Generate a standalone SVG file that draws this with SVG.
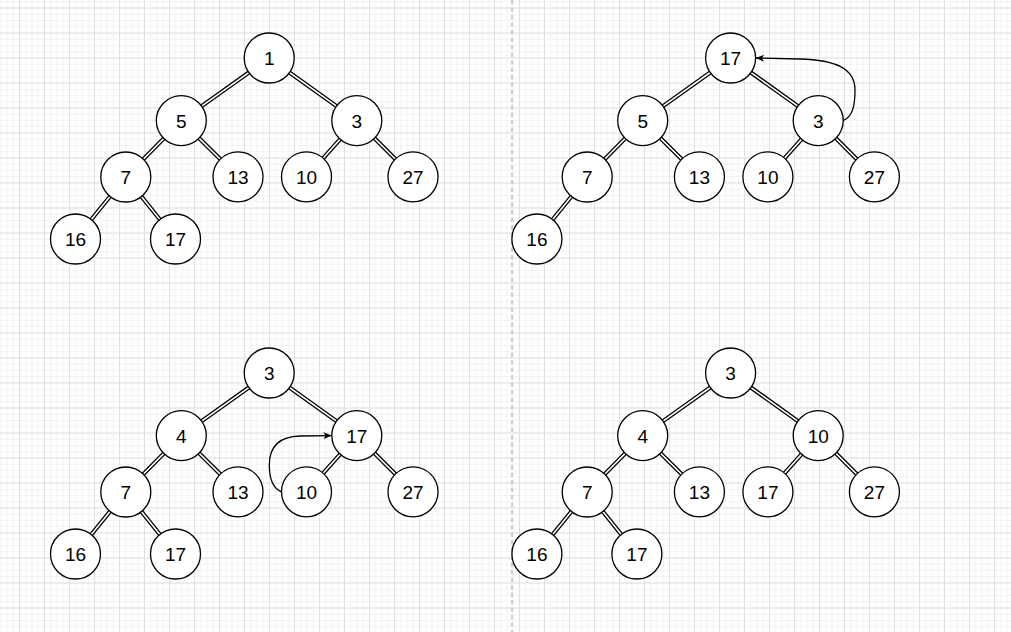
<svg xmlns="http://www.w3.org/2000/svg" width="1011" height="632" viewBox="0 0 1011 632">
<style>
.n circle{fill:#fff;stroke:#000;stroke-width:1.3}
.n text{font-family:"Liberation Sans",Arial,sans-serif;font-size:19px;fill:#000;text-anchor:middle}
.eo{stroke:#000;stroke-width:4.2;fill:none;stroke-linecap:butt}
.ei{stroke:#fff;stroke-width:1.6;fill:none;stroke-linecap:butt}
.arr{stroke:#000;stroke-width:1.3;fill:none;marker-end:url(#ah)}
</style>
<defs>
<pattern id="minor" patternUnits="userSpaceOnUse" x="19" y="7.5" width="6.25" height="6.25">
<rect x="0" y="0" width="6.25" height="1" fill="#f2f2f2"/>
<rect x="0" y="0" width="1" height="6.25" fill="#f2f2f2"/>
</pattern>
<pattern id="major" patternUnits="userSpaceOnUse" x="19" y="7.5" width="25" height="25">
<rect x="0" y="0" width="25" height="1" fill="#e0e0e0"/>
<rect x="0" y="0" width="1" height="25" fill="#e0e0e0"/>
</pattern>
<marker id="ah" markerUnits="userSpaceOnUse" markerWidth="10" markerHeight="8" refX="8" refY="3.5" orient="auto">
<path d="M0,0 L8,3.5 L0,7 L2,3.5 z" fill="#000"/>
</marker>
</defs>
<rect width="1011" height="632" fill="#fff"/>
<rect width="1011" height="632" fill="url(#minor)"/>
<rect width="1011" height="632" fill="url(#major)"/>
<line x1="512" y1="0" x2="512" y2="632" stroke="#bdbdbd" stroke-width="1.5" stroke-dasharray="4.5 3"/>

<g id="connectors">
<!-- top-left -->
<path class="eo" d="M269.2,58 L181.3,120.6 M269.2,58 L356.8,120.6 M181.3,120.6 L125.8,177 M181.3,120.6 L238,176.8 M356.8,120.6 L306.5,176.8 M356.8,120.6 L413,176.8 M125.8,177 L75.5,239 M125.8,177 L175.5,239"/>
<path class="ei" d="M269.2,58 L181.3,120.6 M269.2,58 L356.8,120.6 M181.3,120.6 L125.8,177 M181.3,120.6 L238,176.8 M356.8,120.6 L306.5,176.8 M356.8,120.6 L413,176.8 M125.8,177 L75.5,239 M125.8,177 L175.5,239"/>
<!-- top-right -->
<path class="eo" d="M730.6,58 L642.7,120.6 M730.6,58 L818.2,120.6 M642.7,120.6 L587.2,177 M642.7,120.6 L699.4,176.8 M818.2,120.6 L767.9,176.8 M818.2,120.6 L874.4,176.8 M587.2,177 L536.9,239"/>
<path class="ei" d="M730.6,58 L642.7,120.6 M730.6,58 L818.2,120.6 M642.7,120.6 L587.2,177 M642.7,120.6 L699.4,176.8 M818.2,120.6 L767.9,176.8 M818.2,120.6 L874.4,176.8 M587.2,177 L536.9,239"/>
<!-- bottom-left -->
<path class="eo" d="M269.2,373 L181.3,435.6 M269.2,373 L356.8,435.6 M181.3,435.6 L125.8,492 M181.3,435.6 L238,491.8 M356.8,435.6 L306.5,491.8 M356.8,435.6 L413,491.8 M125.8,492 L75.5,554 M125.8,492 L175.5,554"/>
<path class="ei" d="M269.2,373 L181.3,435.6 M269.2,373 L356.8,435.6 M181.3,435.6 L125.8,492 M181.3,435.6 L238,491.8 M356.8,435.6 L306.5,491.8 M356.8,435.6 L413,491.8 M125.8,492 L75.5,554 M125.8,492 L175.5,554"/>
<!-- bottom-right -->
<path class="eo" d="M730.6,373 L642.7,435.6 M730.6,373 L818.2,435.6 M642.7,435.6 L587.2,492 M642.7,435.6 L699.4,491.8 M818.2,435.6 L767.9,491.8 M818.2,435.6 L874.4,491.8 M587.2,492 L536.9,554 M587.2,492 L636.9,554"/>
<path class="ei" d="M730.6,373 L642.7,435.6 M730.6,373 L818.2,435.6 M642.7,435.6 L587.2,492 M642.7,435.6 L699.4,491.8 M818.2,435.6 L767.9,491.8 M818.2,435.6 L874.4,491.8 M587.2,492 L536.9,554 M587.2,492 L636.9,554"/>
</g>

<g id="tl">
<g id="tl-1" class="n"><circle cx="269.2" cy="58" r="25"/><text x="269.2" y="65">1</text></g>
<g id="tl-5" class="n"><circle cx="181.3" cy="120.6" r="25"/><text x="181.3" y="127.6">5</text></g>
<g id="tl-3" class="n"><circle cx="356.8" cy="120.6" r="25"/><text x="356.8" y="127.6">3</text></g>
<g id="tl-7" class="n"><circle cx="125.8" cy="177" r="25"/><text x="125.8" y="184">7</text></g>
<g id="tl-13" class="n"><circle cx="238" cy="176.8" r="25"/><text x="238" y="183.8">13</text></g>
<g id="tl-10" class="n"><circle cx="306.5" cy="176.8" r="25"/><text x="306.5" y="183.8">10</text></g>
<g id="tl-27" class="n"><circle cx="413" cy="176.8" r="25"/><text x="413" y="183.8">27</text></g>
<g id="tl-16" class="n"><circle cx="75.5" cy="239" r="25"/><text x="75.5" y="246">16</text></g>
<g id="tl-17" class="n"><circle cx="175.5" cy="239" r="25"/><text x="175.5" y="246">17</text></g>
</g>

<g id="tr">
<g id="tr-17" class="n"><circle cx="730.6" cy="58" r="25"/><text x="730.6" y="65">17</text></g>
<g id="tr-5" class="n"><circle cx="642.7" cy="120.6" r="25"/><text x="642.7" y="127.6">5</text></g>
<g id="tr-3" class="n"><circle cx="818.2" cy="120.6" r="25"/><text x="818.2" y="127.6">3</text></g>
<g id="tr-7" class="n"><circle cx="587.2" cy="177" r="25"/><text x="587.2" y="184">7</text></g>
<g id="tr-13" class="n"><circle cx="699.4" cy="176.8" r="25"/><text x="699.4" y="183.8">13</text></g>
<g id="tr-10" class="n"><circle cx="767.9" cy="176.8" r="25"/><text x="767.9" y="183.8">10</text></g>
<g id="tr-27" class="n"><circle cx="874.4" cy="176.8" r="25"/><text x="874.4" y="183.8">27</text></g>
<g id="tr-16" class="n"><circle cx="536.9" cy="239" r="25"/><text x="536.9" y="246">16</text></g>
</g>

<g id="bl">
<g id="bl-3" class="n"><circle cx="269.2" cy="373" r="25"/><text x="269.2" y="380">3</text></g>
<g id="bl-4" class="n"><circle cx="181.3" cy="435.6" r="25"/><text x="181.3" y="442.6">4</text></g>
<g id="bl-17a" class="n"><circle cx="356.8" cy="435.6" r="25"/><text x="356.8" y="442.6">17</text></g>
<g id="bl-7" class="n"><circle cx="125.8" cy="492" r="25"/><text x="125.8" y="499">7</text></g>
<g id="bl-13" class="n"><circle cx="238" cy="491.8" r="25"/><text x="238" y="498.8">13</text></g>
<g id="bl-10" class="n"><circle cx="306.5" cy="491.8" r="25"/><text x="306.5" y="498.8">10</text></g>
<g id="bl-27" class="n"><circle cx="413" cy="491.8" r="25"/><text x="413" y="498.8">27</text></g>
<g id="bl-16" class="n"><circle cx="75.5" cy="554" r="25"/><text x="75.5" y="561">16</text></g>
<g id="bl-17b" class="n"><circle cx="175.5" cy="554" r="25"/><text x="175.5" y="561">17</text></g>
</g>

<g id="br">
<g id="br-3" class="n"><circle cx="730.6" cy="373" r="25"/><text x="730.6" y="380">3</text></g>
<g id="br-4" class="n"><circle cx="642.7" cy="435.6" r="25"/><text x="642.7" y="442.6">4</text></g>
<g id="br-10" class="n"><circle cx="818.2" cy="435.6" r="25"/><text x="818.2" y="442.6">10</text></g>
<g id="br-7" class="n"><circle cx="587.2" cy="492" r="25"/><text x="587.2" y="499">7</text></g>
<g id="br-13" class="n"><circle cx="699.4" cy="491.8" r="25"/><text x="699.4" y="498.8">13</text></g>
<g id="br-17a" class="n"><circle cx="767.9" cy="491.8" r="25"/><text x="767.9" y="498.8">17</text></g>
<g id="br-27" class="n"><circle cx="874.4" cy="491.8" r="25"/><text x="874.4" y="498.8">27</text></g>
<g id="br-16" class="n"><circle cx="536.9" cy="554" r="25"/><text x="536.9" y="561">16</text></g>
<g id="br-17b" class="n"><circle cx="636.9" cy="554" r="25"/><text x="636.9" y="561">17</text></g>
</g>

<g id="swap-arrows">
<path class="arr" d="M843.2,120.6 C853,116.5 855,105 855,90 C855,68 835,60 800,59 L756,58"/>
<path class="arr" d="M281.5,491.8 C272,488 269.3,478 269.3,465 C269.3,446 280,436.5 300,436 L331.5,435.6"/>
</g>
</svg>
